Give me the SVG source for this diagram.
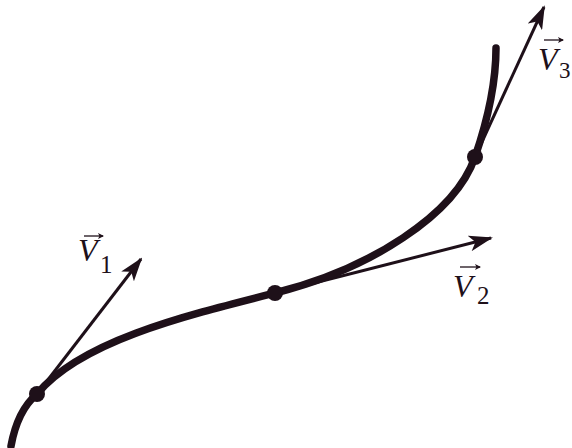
<svg xmlns="http://www.w3.org/2000/svg" width="572" height="448" viewBox="0 0 572 448">
<style>
.curve{fill:none;stroke:#1e1019;stroke-width:7.5;stroke-linecap:round}
.vec{stroke:#1e1019;stroke-width:3;fill:none}
.acc{stroke:#1e1019;stroke-width:1.3;fill:none}
.dot{fill:#1e1019}
.lbl{font-family:"Liberation Serif","Times New Roman",serif;font-style:italic;font-size:32px;fill:#1e1019}
.sub{font-family:"Liberation Serif","Times New Roman",serif;font-size:25px;fill:#1e1019}
</style>
<defs>
<marker id="ah" viewBox="0 0 24 16" refX="22" refY="8" markerWidth="24" markerHeight="16" markerUnits="userSpaceOnUse" orient="auto">
<path d="M0,0 L24,8 L0,16 L6,8 Z" fill="#1e1019"/>
</marker>
<marker id="sa" viewBox="0 0 6 6" refX="5" refY="3" markerWidth="6" markerHeight="6" markerUnits="userSpaceOnUse" orient="auto">
<path d="M0,0 L6,3 L0,6 L1.5,3 Z" fill="#1e1019"/>
</marker>
</defs>
<g id="connectors">
<line class="vec" x1="37" y1="394" x2="141" y2="259" marker-end="url(#ah)"/>
<line class="vec" x1="275" y1="293" x2="491" y2="238" marker-end="url(#ah)"/>
<line class="vec" x1="475" y1="157" x2="544" y2="7" marker-end="url(#ah)"/>
</g>
<g id="curve">
<path class="curve" d="M11,446 C15,424 24,405 37,394 C80,342 180,317 275,293 C370,269 455,215 475,157 C486,125 496,85 496,48"/>
</g>
<g id="p1"><circle class="dot" cx="37" cy="394" r="8"/></g>
<g id="p2"><circle class="dot" cx="275" cy="293" r="8"/></g>
<g id="p3"><circle class="dot" cx="475" cy="157" r="8"/></g>
<g id="v1label">
<text class="lbl" x="78" y="261">V</text><text class="sub" x="100" y="273">1</text>
<line class="acc" x1="84" y1="236" x2="103" y2="236" marker-end="url(#sa)"/>
</g>
<g id="v2label">
<text class="lbl" x="453" y="297">V</text><text class="sub" x="477" y="304">2</text>
<line class="acc" x1="460" y1="267" x2="480" y2="267" marker-end="url(#sa)"/>
</g>
<g id="v3label">
<text class="lbl" x="538" y="70">V</text><text class="sub" x="559" y="78" style="font-size:23px">3</text>
<line class="acc" x1="544" y1="40" x2="563" y2="40" marker-end="url(#sa)"/>
</g>
</svg>
